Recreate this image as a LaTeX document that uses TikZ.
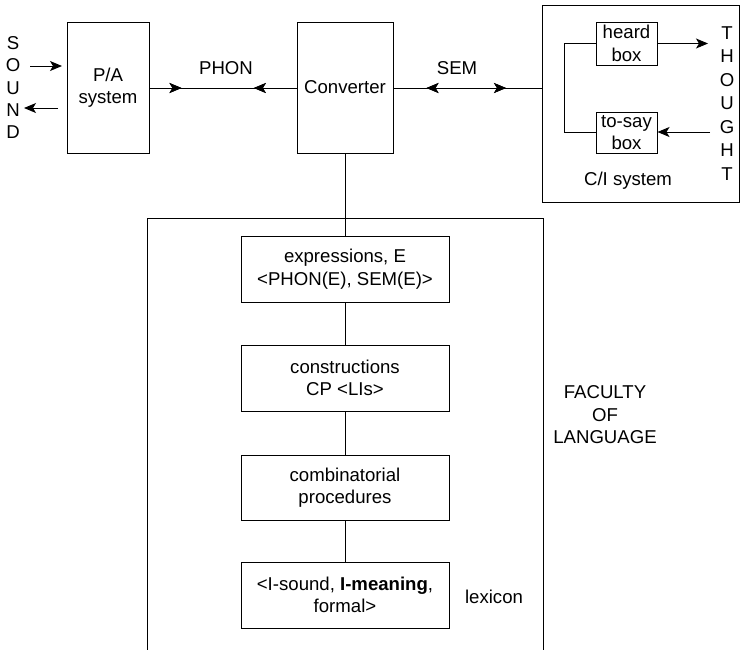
\documentclass[tikz,border=0pt]{standalone}
\usepackage{fontspec}
\setmainfont{Liberation Sans}
\usetikzlibrary{arrows.meta,decorations.markings}
\tikzset{
  box/.style={draw, line width=1pt, rectangle, inner sep=0pt, align=center, font=\fontsize{18.6}{22.5}\selectfont},
  lbl/.style={inner sep=0pt, align=center, font=\fontsize{18.6}{22.5}\selectfont},
  conn/.style={line width=1pt},
  tip/.style={-{Stealth[length=12pt,width=10pt,inset=3pt]}},
  midfwd/.style={postaction={decorate}, decoration={markings, mark=at position #1 with {\arrow{Stealth[length=12pt,width=10pt,inset=3pt]}}}},
  midbwd/.style={postaction={decorate}, decoration={markings, mark=at position #1 with {\arrowreversed{Stealth[length=12pt,width=10pt,inset=3pt]}}}},
}
\begin{document}
\begin{tikzpicture}[x=1pt,y=-1pt]
\useasboundingbox (0,0) rectangle (743,649);
% top-level boxes
\node[box, minimum width=82pt, minimum height=131pt] (pa) at (108,87.5) {P/A\\system};
\node[box, minimum width=96pt, minimum height=131pt] (conv) at (345,87.5) {Converter};
\node[box, minimum width=197pt, minimum height=197pt] (ci) at (640.5,103.5) {};
\node[box, minimum width=61pt, minimum height=43pt] (heard) at (626.5,43.5) {heard\\box};
\node[box, minimum width=61pt, minimum height=41pt] (tosay) at (626.5,132.5) {to-say\\box};
\node[lbl] (cilbl) at (628,181) {C/I system};
% labels
\node[lbl] (phon) at (226,68) {PHON};
\node[lbl] (sem) at (457,68) {SEM};
\node[lbl, font=\fontsize{18.6}{22.3}\selectfont] (sound) at (13,87.5) {S\\O\\U\\N\\D};
\node[lbl, font=\fontsize{18.6}{23.5}\selectfont] (thought) at (727,103.5) {T\\H\\O\\U\\G\\H\\T};
% faculty of language frame (open at bottom)
\draw[conn] (147,655) -- (147,218) -- (543,218) -- (543,655);
\node[box, minimum width=208pt, minimum height=66pt] (expr) at (345,269) {expressions, E\\<PHON(E), SEM(E)>};
\node[box, minimum width=208pt, minimum height=66pt] (cons) at (345,378) {constructions\\CP <LIs>};
\node[box, minimum width=208pt, minimum height=65pt] (comb) at (345,487.5) {combinatorial\\procedures};
\node[box, minimum width=208pt, minimum height=66pt] (lex) at (345,595) {<I-sound, \textbf{I-meaning},\\formal>};
\node[lbl] (lexlbl) at (494,597) {lexicon};
\node[lbl] (fac) at (605,415) {FACULTY\\OF\\LANGUAGE};
% connectors
\draw[conn, midfwd=32pt, midbwd=0.71] (pa.east |- 0,88) coordinate (p1) -- (conv.west |- 0,88) coordinate (p2);
\draw[conn, midbwd=33pt, midfwd=0.76] (conv.east |- 0,88) coordinate (q1) -- (ci.west |- 0,88) coordinate (q2);
\draw[conn] (conv.south) -- (expr.north);
\draw[conn] (expr.south) -- (cons.north);
\draw[conn] (cons.south) -- (comb.north);
\draw[conn] (comb.south) -- (lex.north);
\draw[conn] (heard.west) -- ++(-31,0) coordinate (hc) |- (tosay.west);
\coordinate (ht) at (708,43.5);
\coordinate (ts) at (710,132);
\draw[conn, tip] (heard.east) -- (ht);
\draw[conn, tip] (ts) -- (tosay.east |- ts);
\coordinate (s1) at (30,66);
\coordinate (s1e) at (62,66);
\coordinate (s2) at (58,108);
\coordinate (s2e) at (24,108);
\draw[conn, tip] (s1) -- (s1e);
\draw[conn, tip] (s2) -- (s2e);
\end{tikzpicture}
\end{document}
